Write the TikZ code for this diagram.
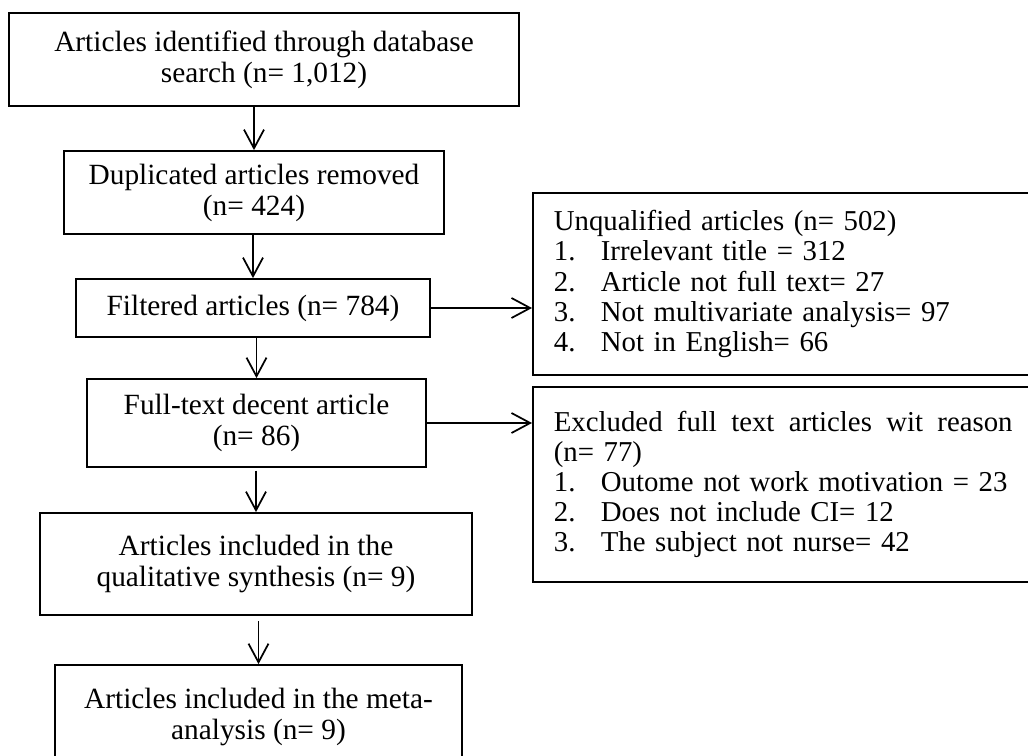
\documentclass[tikz,border=0pt]{standalone}
\usepackage{fontspec}
\setmainfont{Liberation Serif}
\usetikzlibrary{arrows.meta}
\begin{document}
\begin{tikzpicture}[x=0.75pt,y=-0.75pt,
  box/.style={draw=black,line width=1.3pt,inner sep=0pt,align=center,
    font=\fontsize{22}{23.2}\selectfont},
  sidebox/.style={draw=black,line width=1.3pt,inner ysep=0pt,inner xsep=15.75pt,
    text width=344pt,align=left,anchor=west,
    font=\fontsize{21.6}{22.6}\selectfont},
  arr/.style={line width=1.3pt,-{Straight Barb[length=14pt,width=15pt]}}]
\useasboundingbox (0,0) rectangle (1028,756);
\node[box,minimum width=382.5pt,minimum height=69.75pt] (b1) at (264,59.5)
  {Articles identified through database\\search (n= 1,012)};
\node[box,minimum width=285pt,minimum height=62.25pt] (b2) at (254,192.5)
  {Duplicated articles removed\\(n= 424)};
\node[box,minimum width=265.5pt,minimum height=43.5pt] (b3) at (253,308)
  {Filtered articles (n= 784)};
\node[box,minimum width=254.25pt,minimum height=66pt] (b4) at (256.5,423)
  {Full-text decent article\\(n= 86)};
\node[box,minimum width=324pt,minimum height=76.5pt] (b5) at (256,564)
  {Articles included in the\\qualitative synthesis (n= 9)};
\node[box,minimum width=305.25pt,minimum height=78pt] (b6) at (258.5,717)
  {Articles included in the meta-\\analysis (n= 9)};
\node[sidebox,minimum height=136.5pt] (r1) at (532,284)
  {Unqualified articles (n= 502)\\
   \makebox[35.25pt][l]{1.}Irrelevant title = 312\\
   \makebox[35.25pt][l]{2.}Article not full text= 27\\
   \makebox[35.25pt][l]{3.}Not multivariate analysis= 97\\
   \makebox[35.25pt][l]{4.}Not in English= 66};
\node[sidebox,minimum height=146.25pt] (r2) at (532,484.5)
  {\hbox to 344pt{Excluded\hfill full\hfill text\hfill articles\hfill wit\hfill reason}\\
   (n= 77)\\
   \makebox[35.25pt][l]{1.}Outome not work motivation = 23\\
   \makebox[35.25pt][l]{2.}Does not include CI= 12\\
   \makebox[35.25pt][l]{3.}The subject not nurse= 42};
\draw[arr] (b1.south -| b2.north) -- (b2.north);
\draw[arr] (b2.south -| b3.north) -- (b3.north);
\draw[arr] (b3.south -| b4.north) -- (b4.north);
\draw[arr,shorten <=2pt] (b4.south -| b5.north) -- (b5.north);
\draw[arr,shorten <=4pt] (b5.south -| b6.north) -- (b6.north);
\draw[arr] (b3.east) -- (b3.east -| r1.west);
\draw[arr] (b4.east) -- (b4.east -| r2.west);
\end{tikzpicture}
\end{document}
